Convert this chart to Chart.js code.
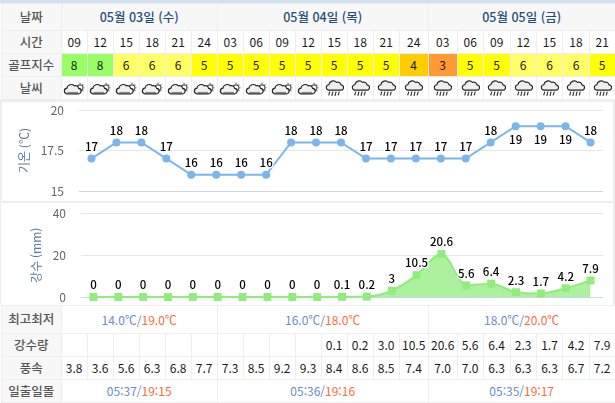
<!DOCTYPE html>
<html lang="ko"><head><meta charset="utf-8">
<script src="https://cdn.jsdelivr.net/npm/chart.js@4"></script>
<style>
html,body{margin:0;padding:0;background:#fff;width:615px;height:403px;overflow:hidden}
body{position:relative;font-family:"Noto Sans CJK KR","Noto Sans",sans-serif;font-size:12px}
#strip{position:absolute;left:0;top:0;width:615px;height:3px;background:#cfe0f0}
.grid{position:absolute;left:1px;width:613px;display:grid;gap:1px;background:#eeeeee;border:1px solid #eeeeee;
 grid-template-columns:58.7px 25px 25px 25px 25px 25px 25px 25px 25px 25px 25px 25px 25px 25px 28px 28px 25px 26px 25px 25.6px 25.4px 25px}
.grid>div{background:#fff;display:flex;align-items:center;justify-content:center;color:#1a1a1a;white-space:nowrap;overflow:hidden;line-height:1}
.grid>div.h{background:#f7f7f7;color:#555;font-weight:500;font-size:12.5px}
.grid>div.d{background:#f7f7f7;color:#264d77;font-size:12.5px;font-weight:500}
#top{top:3px;grid-template-rows:26px 22px 22px 22px}
#bot{top:305px;grid-template-rows:27px 22px 22px 22px}
.panel{position:absolute;left:0;width:615px;background:#eeeeee}
.panel canvas{position:absolute;left:0;top:0}
#p1{top:99px;height:104px}
#p2{top:203px;height:102px}
.lo{color:#6a8cc8}.hi{color:#ff6a3c}
.span{font-size:12px}
svg{display:block}
</style></head><body>
<div id="strip"></div>
<div class="grid" id="top"></div>
<div class="panel" id="p1"><div style="position:absolute;left:2px;top:3px;width:611px;height:99px;background:#fff"></div><div style="position:absolute;left:0;top:0"><canvas id="temp"></canvas></div></div>
<div class="panel" id="p2"><div style="position:absolute;left:1px;top:0;width:612px;height:102px;background:#fff"></div><div style="position:absolute;left:0;top:0"><canvas id="rain"></canvas></div></div>
<div class="grid" id="bot"></div>
<script>
const days=["05월 03일 (수)","05월 04일 (목)","05월 05일 (금)"];
const daySpans=[6,8,7];
const hours=["09","12","15","18","21","24","03","06","09","12","15","18","21","24","03","06","09","12","15","18","21"];
const golfIndex=[8,8,6,6,6,5,5,5,5,5,5,5,5,4,3,5,5,6,6,6,5];
const weather=["c","c","c","c","c","c","c","c","c","c","r","r","r","r","r","r","r","r","r","r","r"];
const temperature=[17,18,18,17,16,16,16,16,18,18,18,17,17,17,17,17,18,19,19,19,18];
const tempBelow=[19];
const rainfall=[0,0,0,0,0,0,0,0,0,0,0.1,0.2,3,10.5,20.6,5.6,6.4,2.3,1.7,4.2,7.9];
const rainTable=["","","","","","","","","","","0.1","0.2","3.0","10.5","20.6","5.6","6.4","2.3","1.7","4.2","7.9"];
const wind=["3.8","3.6","5.6","6.3","6.8","7.7","7.3","8.5","9.2","9.3","8.4","8.6","8.5","7.4","7.0","7.0","6.3","6.3","6.3","6.7","7.2"];
const minTemp=["14.0℃","16.0℃","18.0℃"];
const maxTemp=["19.0℃","18.0℃","20.0℃"];
const sunrise=["05:37","05:36","05:35"];
const sunset=["19:15","19:16","19:17"];
const golfColors={8:"#99ff66",6:"#ffff66",5:"#ffff00",4:"#ffcc00",3:"#ff9933"};

const icons={
 c:'<svg width="22" height="16" viewBox="0 0 20 14.500"><circle cx="15.500" cy="7" r="2.600" fill="#fff" stroke="#555"/><path d="M15.500 2.500v1M19.500 7h-1M18.500 4l-.8.8M18.500 10l-.8-.8" stroke="#666"/><path d="M3.200 12.500h10.600a2.500 2.500 0 0 0 .4-5 3 3 0 0 0-4-2.300A4 4 0 0 0 3.500 7.400a2.600 2.600 0 0 0-.3 5.100z" fill="#f0f0f0" stroke="#222" stroke-width="1.100"/><path d="M4 11.300h9.500" stroke="#888"/></svg>',
 r:'<svg width="19" height="18" viewBox="0 0 18 17"><path d="M3.200 10.500h11.600a2.500 2.500 0 0 0 .4-5 3.200 3.200 0 0 0-4.300-2.400A4.300 4.300 0 0 0 3.600 5.400a2.600 2.600 0 0 0-.4 5.100z" fill="#eee" stroke="#222" stroke-width="1.100"/><path d="M4.500 12l-1 3.500M7.500 12l-1 4M10.500 12l-1 4M13.500 12l-1 3.500" stroke="#333" stroke-width="1.100"/></svg>'};

function cell(p,html,cls,span,style){const d=document.createElement("div");d.innerHTML=html;if(cls)d.className=cls;
 if(span)d.style.gridColumn="span "+span;if(style)d.style.cssText+=style;p.appendChild(d);return d;}
const top_=document.getElementById("top"),bot=document.getElementById("bot");
cell(top_,"날짜","h");days.forEach((t,i)=>cell(top_,t,"d",daySpans[i]));
cell(top_,"시간","h");hours.forEach(t=>cell(top_,t));
cell(top_,"골프지수","h");golfIndex.forEach(v=>cell(top_,v,"",0,"background:"+golfColors[v]));
cell(top_,"날씨","h");weather.forEach(w=>cell(top_,icons[w]));
cell(bot,"최고최저","h");days.forEach((_,i)=>cell(bot,'<span class="lo">'+minTemp[i]+'/</span><span class="hi">'+maxTemp[i]+'</span>',"span",daySpans[i]));
cell(bot,"강수량","h");rainTable.forEach(t=>cell(bot,t));
cell(bot,"풍속","h");wind.forEach(t=>cell(bot,t));
cell(bot,"일출일몰","h");days.forEach((_,i)=>cell(bot,'<span class="lo">'+sunrise[i]+'/</span><span class="hi">'+sunset[i]+'</span>',"span",daySpans[i]));

const labelPlugin={id:"valueLabels",afterDatasetsDraw(c){
 const ctx=c.ctx,ds=c.data.datasets[0],pts=c.getDatasetMeta(0).data;
 ctx.save();ctx.font='500 11.5px "Noto Sans CJK KR","Noto Sans",sans-serif';ctx.textAlign="center";ctx.textBaseline="middle";ctx.lineJoin="round";
 pts.forEach((p,i)=>{const v=ds.data[i];const below=ds.below&&ds.below.includes(v);
  const y=p.y+(below?13:-12);
  ctx.lineWidth=2.5;ctx.strokeStyle="#fff";ctx.strokeText(String(v),p.x,y);ctx.fillStyle="#000";ctx.fillText(String(v),p.x,y);});
 ctx.restore();}};
const F='"Noto Sans CJK KR","Noto Sans",sans-serif';
function mk(id,data,ds,ymin,ymax,step,title,h,pad,titlePad,yw){
 const el=document.getElementById(id);el.parentElement.style.width="615px";el.parentElement.style.height=h+"px";
 return new Chart(el,{type:"line",plugins:[labelPlugin],
 data:{labels:hours,datasets:[Object.assign({data:data,clip:false},ds)]},
 options:{responsive:false,animation:false,devicePixelRatio:1,maintainAspectRatio:false,
  layout:{padding:pad,autoPadding:false},plugins:{legend:{display:false},tooltip:{enabled:false}},
  scales:{x:{display:false,offset:true},
   y:{min:ymin,max:ymax,afterFit(s){s.width=yw;s.paddingTop=0;s.paddingBottom=0;},
    ticks:{stepSize:step,padding:15,color:"#666",font:{family:F,size:12},callback:v=>v},
    border:{display:false},
    grid:{drawTicks:false,color:ct=>ct.tick.value===ymin?"#ccd6eb":"#e6e6e6"},
    title:{display:true,text:title,color:"#5b7a9e",font:{family:F,size:12},padding:{top:titlePad,bottom:0}}}}}});}
function size(id,h){const c=document.getElementById(id);c.width=615;c.height=h;c.style.width="615px";c.style.height=h+"px";}
size("temp",104);size("rain",102);
mk("temp",temperature,{borderColor:"#7cb5ec",borderWidth:2,pointBackgroundColor:"#7cb5ec",pointBorderWidth:0,pointRadius:4,pointStyle:"circle",tension:0,below:tempBelow},15,20,2.5,"기온 (℃)",104,{top:11,bottom:12,left:0,right:12},17,79);
mk("rain",rainfall,{borderColor:"#90ed7d",borderWidth:2,backgroundColor:"rgba(144,237,125,0.75)",fill:"origin",pointBackgroundColor:"#90ed7d",pointBorderWidth:0,pointRadius:5.6,pointStyle:"rect",cubicInterpolationMode:"monotone"},0,40,20,"강수 (mm)",102,{top:10.5,bottom:8,left:0,right:12},29,81);
</script></body></html>
